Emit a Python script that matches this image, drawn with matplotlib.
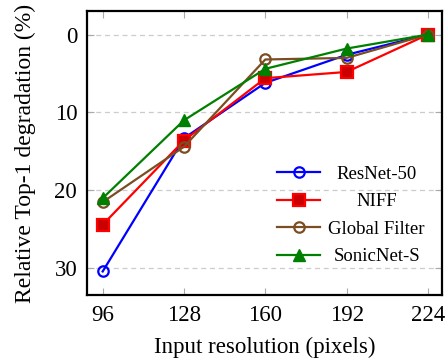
import matplotlib
matplotlib.use("Agg")
import matplotlib.pyplot as plt

resolutions = [96, 128, 160, 192, 224]
resnet50 = [30.4, 13.3, 6.2, 2.6, 0.0]
niff = [24.4, 13.6, 5.6, 4.8, 0.0]
global_filter = [21.5, 14.4, 3.2, 3.0, 0.0]
sonicnet_s = [21.0, 11.0, 4.4, 1.8, 0.0]
series_labels = ['ResNet-50', 'NIFF', 'Global Filter', 'SonicNet-S']
y_ticks = [0, 10, 20, 30]

plt.rcParams['font.family'] = ['Liberation Serif', 'DejaVu Serif']

fig = plt.figure(figsize=(4.48, 3.6), dpi=100)
ax = fig.add_axes([0.194, 0.181, 0.793, 0.788])

lw = 1.6
h1, = ax.plot(resolutions, resnet50, color='#0000ff', lw=lw, marker='o', ms=7.5,
              mfc='none', mec='#0000ff', mew=1.6, zorder=3)
h2, = ax.plot(resolutions, niff, color='#ff0000', lw=lw, marker='s', ms=8.5,
              mfc='#cc0000', mec='#ff0000', mew=1.6, zorder=3)
h3, = ax.plot(resolutions, global_filter, color='#7a4e22', lw=lw, marker='o', ms=7.5,
              mfc='none', mec='#7a4e22', mew=1.6, zorder=3)
h4, = ax.plot(resolutions, sonicnet_s, color='#008000', lw=lw, marker='^', ms=8,
              mfc='#008000', mec='#008000', mew=1.0, zorder=3)
handles = [h1, h2, h3, h4]

ax.set_xlim(89.8, 229.6)
ax.set_ylim(33.4, -3.0)
ax.set_xticks(resolutions)
ax.set_xticklabels([str(r) for r in resolutions])
ax.set_yticks(y_ticks)

ax.yaxis.grid(True, linestyle=(0, (4, 3)), color='#cccccc', lw=0.9)
ax.set_axisbelow(True)
ax.tick_params(direction='in', length=5, color='#aaaaaa', width=0.8,
               top=True, right=True, labelsize=16.5, labelcolor='black')
ax.tick_params(axis='x', pad=7)
ax.tick_params(axis='y', pad=7)
for s in ax.spines.values():
    s.set_linewidth(1.6)
    s.set_color('black')

ax.set_xlabel('Input resolution (pixels)', fontsize=16.5, labelpad=8)
ax.set_ylabel('Relative Top-1 degradation (%)', fontsize=17, labelpad=13)

# legend: handles from the library, labels centred in a column to the right
leg = ax.legend(handles, [''] * len(handles), loc='upper left',
                bbox_to_anchor=(0.535, 0.455), frameon=False,
                fontsize=13.5, handlelength=2.3, handletextpad=0.0,
                labelspacing=0.55, borderaxespad=0.0, borderpad=0.0)
fig.canvas.draw()
renderer = fig.canvas.get_renderer()
inv = fig.transFigure.inverted()
for lh, lab in zip(leg.legend_handles, series_labels):
    bb = lh.get_window_extent(renderer)
    x1, yc = bb.x1, (bb.y0 + bb.y1) / 2
    fx, fy = inv.transform((x1 + 51, yc))
    fig.text(fx, fy, lab, ha='center', va='center_baseline', fontsize=13.5)

fig.savefig('out.png', dpi=100)
